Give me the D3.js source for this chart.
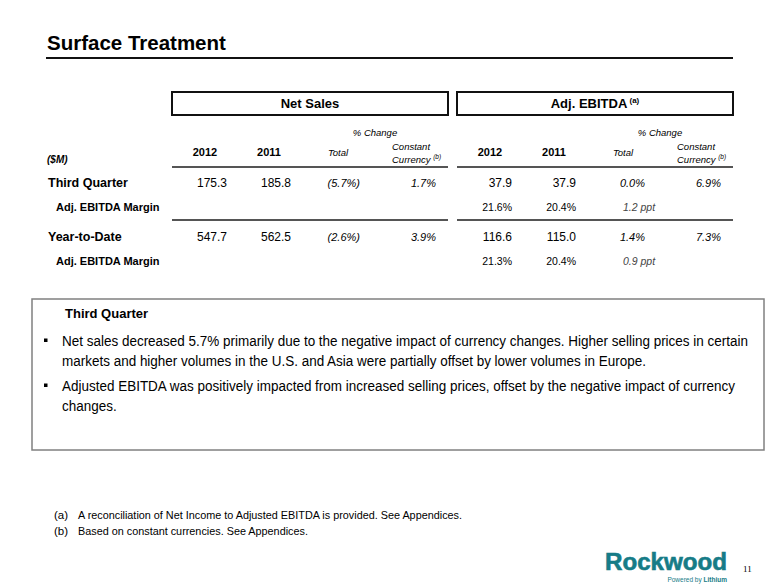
<!DOCTYPE html>
<html><head><meta charset="utf-8">
<script src="https://cdn.jsdelivr.net/npm/d3@7"></script>
<style>
html,body{margin:0;padding:0;background:#fff;}
svg{display:block;font-family:"Liberation Sans",Arial,sans-serif;}
</style></head>
<body>
<script>
// ---------- data ----------
const title = "Surface Treatment";
const blocks = ["Net Sales", "Adj. EBITDA"];
const columns = ["2012", "2011", "Total", "Constant Currency"];
const rowGroups = ["Third Quarter", "Year-to-Date"];
const subRowLabel = "Adj. EBITDA Margin";
const netSales2012 = [175.3, 547.7];
const netSales2011 = [185.8, 562.5];
const netSalesTotalChange = [-5.7, -2.6];
const netSalesConstCurrency = [1.7, 3.9];
const ebitda2012 = [37.9, 116.6];
const ebitda2011 = [37.9, 115.0];
const ebitdaTotalChange = [0.0, 1.4];
const ebitdaConstCurrency = [6.9, 7.3];
const margin2012 = [21.6, 21.3];
const margin2011 = [20.4, 20.4];
const marginChangePpt = [1.2, 0.9];
const boxHeading = "Third Quarter";
const bullets = [
  ["Net sales decreased 5.7% primarily due to the negative impact of currency changes. Higher selling prices in certain",
   "markets and higher volumes in the U.S. and Asia were partially offset by lower volumes in Europe."],
  ["Adjusted EBITDA was positively impacted from increased selling prices, offset by the negative impact of currency",
   "changes."]
];
const footnotes = [["(a)", "A reconciliation of Net Income to Adjusted EBITDA is provided. See Appendices."],
                   ["(b)", "Based on constant currencies. See Appendices."]];
const pageNumber = "11";

// ---------- drawing ----------
const W = 780, H = 585;
const svg = d3.select("body").append("svg").attr("width", W).attr("height", H);

// title
svg.append("text").attr("x", 47).attr("y", 50).attr("font-size", 20.5).attr("font-weight", "bold")
  .attr("fill", "#000").text(title);
svg.append("line").attr("x1", 46).attr("x2", 733).attr("y1", 58).attr("y2", 58)
  .attr("stroke", "#111").attr("stroke-width", 2.2);

// scales
const xBlock = d3.scaleBand().domain(blocks).range([172, 733]).paddingInner(9 / 285).paddingOuter(0);
const bw = xBlock.bandwidth();
const colCenter = d3.scaleOrdinal().domain(columns).range([33, 97, 166, 220]);
const colRight = d3.scaleOrdinal().domain(columns).range([55, 119, 188, 264]);
const yRow = d3.scalePoint().domain(rowGroups).range([187, 241]);
const subOffset = 24;

const fmtNum = d3.format(".1f");
const fmtPct = v => v < 0 ? "(" + fmtNum(-v) + "%)" : fmtNum(v) + "%";

blocks.forEach((b, bi) => {
  const x0 = xBlock(b);
  const g = svg.append("g").attr("transform", `translate(${x0},0)`);
  g.append("rect").attr("x", 0).attr("y", 92).attr("width", bw).attr("height", 23)
    .attr("fill", "none").attr("stroke", "#111").attr("stroke-width", 2);
  const ht = g.append("text").attr("x", bw / 2).attr("y", 108).attr("text-anchor", "middle")
    .attr("font-size", 13).attr("font-weight", "bold").text(b);
  if (bi === 1) ht.append("tspan").attr("font-size", 8).attr("dy", -5).text(" (a)");
  g.append("text").attr("x", 203).attr("y", 136).attr("text-anchor", "middle")
    .attr("font-size", 9.5).attr("font-style", "italic").text("% Change");
  ["2012", "2011"].forEach(c => {
    g.append("text").attr("x", colCenter(c)).attr("y", 156).attr("text-anchor", "middle")
      .attr("font-size", 11).attr("font-weight", "bold").text(c);
  });
  g.append("text").attr("x", colCenter("Total")).attr("y", 156).attr("text-anchor", "middle")
    .attr("font-size", 9.5).attr("font-style", "italic").text("Total");
  g.append("text").attr("x", colCenter("Constant Currency")).attr("y", 150)
    .attr("font-size", 9.5).attr("font-style", "italic").text("Constant");
  const cc = g.append("text").attr("x", colCenter("Constant Currency")).attr("y", 163)
    .attr("font-size", 9.5).attr("font-style", "italic").text("Currency ");
  cc.append("tspan").attr("font-size", 6.5).attr("dy", -4).text("(b)");
  [167, 220].forEach(yy => {
    g.append("line").attr("x1", 0).attr("x2", bw).attr("y1", yy).attr("y2", yy)
      .attr("stroke", "#555").attr("stroke-width", 2);
  });

  const v2012 = bi === 0 ? netSales2012 : ebitda2012;
  const v2011 = bi === 0 ? netSales2011 : ebitda2011;
  const vTot = bi === 0 ? netSalesTotalChange : ebitdaTotalChange;
  const vCC = bi === 0 ? netSalesConstCurrency : ebitdaConstCurrency;
  rowGroups.forEach((r, ri) => {
    const y = yRow(r);
    g.append("text").attr("x", colRight("2012")).attr("y", y).attr("text-anchor", "end")
      .attr("font-size", 12).text(fmtNum(v2012[ri]));
    g.append("text").attr("x", colRight("2011")).attr("y", y).attr("text-anchor", "end")
      .attr("font-size", 12).text(fmtNum(v2011[ri]));
    g.append("text").attr("x", colRight("Total")).attr("y", y).attr("text-anchor", "end")
      .attr("font-size", 11).attr("font-style", "italic").text(fmtPct(vTot[ri]));
    g.append("text").attr("x", colRight("Constant Currency")).attr("y", y).attr("text-anchor", "end")
      .attr("font-size", 11).attr("font-style", "italic").text(fmtPct(vCC[ri]));
    if (bi === 1) {
      const ys = y + subOffset;
      g.append("text").attr("x", colRight("2012")).attr("y", ys).attr("text-anchor", "end")
        .attr("font-size", 10.5).text(fmtNum(margin2012[ri]) + "%");
      g.append("text").attr("x", colRight("2011")).attr("y", ys).attr("text-anchor", "end")
        .attr("font-size", 10.5).text(fmtNum(margin2011[ri]) + "%");
      g.append("text").attr("x", colCenter("Total")).attr("y", ys)
        .attr("font-size", 10.5).attr("font-style", "italic").attr("fill", "#444")
        .text(fmtNum(marginChangePpt[ri]) + " ppt");
    }
  });
});

// row labels
svg.append("text").attr("x", 47).attr("y", 163).attr("font-size", 10).attr("font-weight", "bold")
  .attr("font-style", "italic").text("($M)");
rowGroups.forEach(r => {
  const y = yRow(r);
  svg.append("text").attr("x", 48).attr("y", y).attr("font-size", 12.5).attr("font-weight", "bold").text(r);
  svg.append("text").attr("x", 56).attr("y", y + subOffset).attr("font-size", 11).attr("font-weight", "bold").text(subRowLabel);
});

// commentary box
svg.append("rect").attr("x", 32).attr("y", 299).attr("width", 732).attr("height", 151)
  .attr("fill", "none").attr("stroke", "#808080").attr("stroke-width", 1.5);
svg.append("text").attr("x", 65).attr("y", 318).attr("font-size", 13).attr("font-weight", "bold").text(boxHeading);
const lineYs = [[346, 366], [391, 411]];
const probe = svg.append("text").attr("font-size", 14).text(bullets[0][0]);
const condense = 686 / probe.node().getComputedTextLength();
probe.remove();
bullets.forEach((lines, i) => {
  svg.append("rect").attr("x", 44).attr("y", lineYs[i][0] - 7.5).attr("width", 3.5).attr("height", 3.5).attr("fill", "#000");
  lines.forEach((t, j) => {
    const tx = svg.append("text").attr("x", 62).attr("y", lineYs[i][j]).attr("font-size", 14).text(t);
    const len = tx.node().getComputedTextLength();
    tx.attr("textLength", len * condense).attr("lengthAdjust", "spacingAndGlyphs");
  });
});

// footnotes
const fprobe = svg.append("text").attr("font-size", 11.5).text(footnotes[0][1]);
const fcond = 384 / fprobe.node().getComputedTextLength();
fprobe.remove();
footnotes.forEach((f, i) => {
  const y = 519 + i * 16;
  svg.append("text").attr("x", 54).attr("y", y).attr("font-size", 11.5).text(f[0]);
  const tx = svg.append("text").attr("x", 78).attr("y", y).attr("font-size", 11.5).text(f[1]);
  const len = tx.node().getComputedTextLength();
  tx.attr("textLength", len * fcond).attr("lengthAdjust", "spacingAndGlyphs");
});

// logo
svg.append("text").attr("x", 605).attr("y", 570).attr("font-size", 23).attr("font-weight", "bold")
  .attr("fill", "#167c87").attr("stroke", "#167c87").attr("stroke-width", 0.6)
  .attr("textLength", 122).attr("lengthAdjust", "spacingAndGlyphs").text("Rockwood");
const pw = svg.append("text").attr("x", 727).attr("y", 582).attr("text-anchor", "end")
  .attr("font-size", 6.5).attr("fill", "#167c87").text("Powered by ");
pw.append("tspan").attr("font-weight", "bold").text("Lithium");
svg.append("text").attr("x", 743).attr("y", 572).attr("font-size", 9)
  .attr("font-family", "'Liberation Serif',serif").text(pageNumber);
</script>
</body></html>
